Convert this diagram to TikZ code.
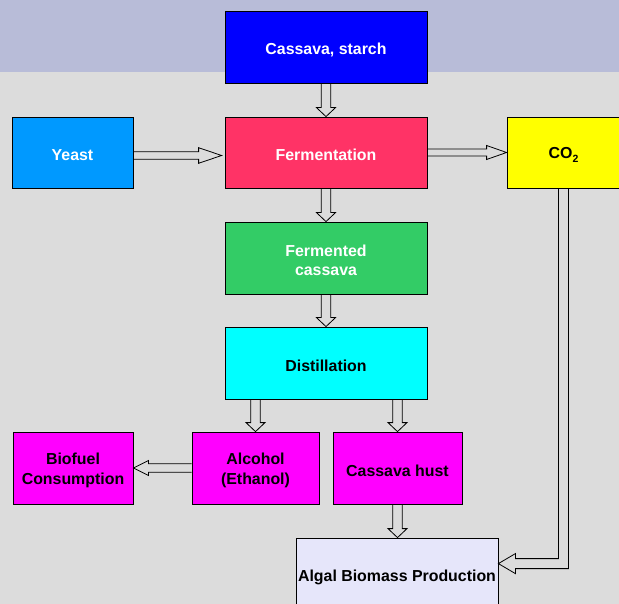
\documentclass[tikz,border=0pt]{standalone}
\usepackage{fontspec}
\setmainfont{Liberation Sans}
\usetikzlibrary{calc}
\definecolor{bgc}{RGB}{220,220,220}
\definecolor{bandc}{RGB}{184,188,216}
\definecolor{cassavac}{RGB}{0,0,255}
\definecolor{yeastc}{RGB}{0,153,255}
\definecolor{fermc}{RGB}{255,51,102}
\definecolor{co2c}{RGB}{255,255,0}
\definecolor{fermentedc}{RGB}{51,204,102}
\definecolor{distc}{RGB}{0,255,255}
\definecolor{magc}{RGB}{255,0,255}
\definecolor{algalc}{RGB}{230,230,250}
\tikzset{
  box/.style={draw=black, line width=0.8pt, inner sep=0pt},
  txt/.style={align=center, inner sep=0pt,
    font=\bfseries\fontsize{15.9}{19.5}\selectfont},
  barrow/.style={draw=black, line width=0.8pt, line join=miter},
}
% #1 box options, #2 name, #3 centre, #4 text options, #5 text
\newcommand\labbox[5]{%
  \node[box,#1] (#2) at (#3) {};
  \node[txt,#4] (#2-t) at ($(#2.center)+(0,2.5)$) {#5};}
\newcommand\blockarrow[5]{%
  \draw[barrow] let \p1=(#1), \p2=(#2),
      \n1={veclen(\x2-\x1,\y2-\y1)},
      \n2={(\x2-\x1)/\n1}, \n3={(\y2-\y1)/\n1}
    in ({\x1-#3*\n3},{\y1+#3*\n2})
    -- ({\x2-#5*\n2-#3*\n3},{\y2-#5*\n3+#3*\n2})
    -- ({\x2-#5*\n2-#4*\n3},{\y2-#5*\n3+#4*\n2})
    -- (\p2)
    -- ({\x2-#5*\n2+#4*\n3},{\y2-#5*\n3-#4*\n2})
    -- ({\x2-#5*\n2+#3*\n3},{\y2-#5*\n3-#3*\n2})
    -- ({\x1+#3*\n3},{\y1-#3*\n2});}
\begin{document}
\begin{tikzpicture}[x=1pt,y=-1pt]
\useasboundingbox (0,0) rectangle (619,604);
\clip (0,0) rectangle (619,604);
\fill[bgc] (0,0) rectangle (619,604);
\fill[bandc] (0,0) rectangle (619,72);

\labbox{fill=cassavac, minimum width=202pt, minimum height=72pt}{cassava}{326,47}{text=white}{Cassava, starch}
\labbox{fill=yeastc, minimum width=121pt, minimum height=71pt}{yeast}{72.5,152.5}{text=white}{Yeast}
\labbox{fill=fermc, minimum width=202pt, minimum height=71pt}{ferm}{326,152.5}{text=white}{Fermentation}
\labbox{fill=co2c, minimum width=113pt, minimum height=71pt}{co2}{563.5,152.5}{}{CO\raisebox{-0.45ex}{\fontsize{10.5}{10.5}\selectfont 2}}
\labbox{fill=fermentedc, minimum width=202pt, minimum height=72pt}{fermented}{326,258}{text=white}{Fermented\\cassava}
\labbox{fill=distc, minimum width=202pt, minimum height=72pt}{dist}{326,363}{}{Distillation}
\labbox{fill=magc, minimum width=120pt, minimum height=72pt}{biofuel}{73,468}{}{Biofuel\\Consumption}
\labbox{fill=magc, minimum width=127pt, minimum height=72pt}{alcohol}{255.5,468}{}{Alcohol\\(Ethanol)}
\labbox{fill=magc, minimum width=129pt, minimum height=72pt}{hust}{397.5,468}{}{Cassava hust}
\labbox{fill=algalc, minimum width=202pt, minimum height=74pt}{algal}{397,575}{}{Algal Biomass Production}

% vertical block arrows
\blockarrow{cassava.south}{ferm.north}{4.7}{9.5}{9}
\blockarrow{ferm.south}{fermented.north}{4.7}{9.5}{9}
\blockarrow{fermented.south}{dist.north}{4.7}{9.5}{9}
\blockarrow{dist.south -| alcohol}{alcohol.north}{4.7}{9.5}{9}
\blockarrow{dist.south -| hust}{hust.north}{4.7}{9.5}{9}
\blockarrow{hust.south}{algal.north -| hust}{4.7}{9.5}{9}

% horizontal block arrows
\coordinate (y1) at ($(yeast.east)+(0,3)$);
\coordinate (y2) at ($(ferm.west)+(-3,3)$);
\blockarrow{y1}{y2}{3.8}{7.8}{23}
\blockarrow{ferm.east}{co2.west}{3.5}{7}{20}
\blockarrow{alcohol.west}{biofuel.east}{4.2}{7.5}{15}

% bent arrow CO2 -> Algal
\coordinate (tip) at ($(algal.north east)+(0,26)$);
\coordinate (bend) at (co2.south |- tip);
\draw[barrow] ($(co2.south)+(-5,0)$) -- ($(bend)+(-5,-5)$) -- ($(tip)+(17,-5)$)
  -- ($(tip)+(17,-10)$) -- (tip) -- ($(tip)+(17,10)$) -- ($(tip)+(17,5)$)
  -- ($(bend)+(5,5)$) -- ($(co2.south)+(5,0)$);
\end{tikzpicture}
\end{document}
